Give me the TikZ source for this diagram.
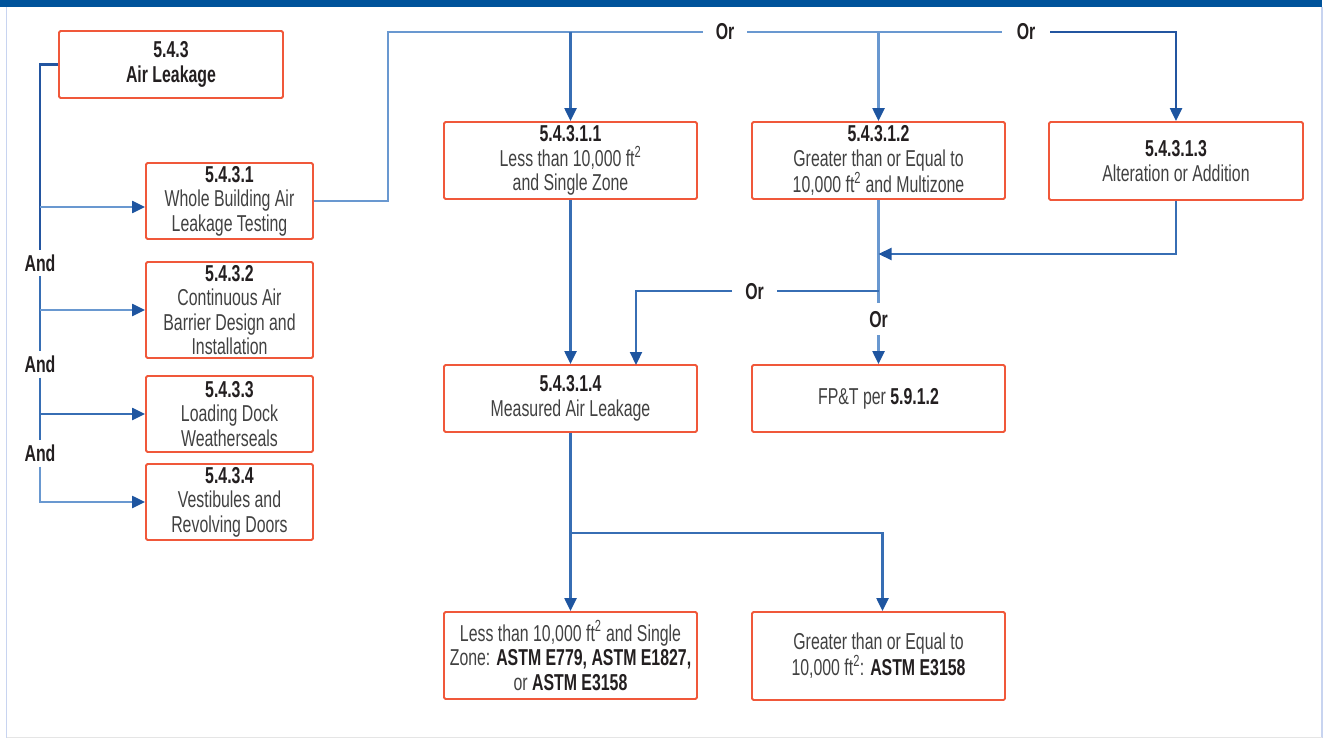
\documentclass[tikz,border=0pt]{standalone}
\usepackage{fontspec}
\setmainfont[FakeStretch=0.69]{Liberation Sans}
\usetikzlibrary{arrows.meta}
\definecolor{barblue}{RGB}{0,83,155}
\definecolor{boxred}{RGB}{240,88,58}
\definecolor{ln}{RGB}{55,110,180}
\definecolor{lnlt}{RGB}{105,152,208}
\definecolor{lndk}{RGB}{35,85,160}
\definecolor{tipblue}{RGB}{30,85,160}
\definecolor{numcol}{RGB}{35,31,32}
\definecolor{txtcol}{RGB}{65,65,65}
\definecolor{edgecol}{RGB}{200,212,240}
\newcommand\secnum[1]{{\bfseries\color{numcol}#1}}
\begin{document}
\begin{tikzpicture}[x=1pt,y=-1pt,
  box/.style={draw=boxred, line width=1.8pt, rounded corners=1.5pt, align=center,
    inner sep=0pt, font=\fontsize{23}{24.5}\selectfont, text=txtcol},
  conn/.style={line width=2.2pt, draw=ln},
  arr/.style={conn, -{Triangle[length=13pt,width=12pt,color=tipblue]}},
  lab/.style={font=\fontsize{23}{24.5}\selectfont\bfseries, text=numcol,
    inner xsep=13pt, inner ysep=5pt, text height=16pt, text depth=0pt},
]
\useasboundingbox (0,0) rectangle (1324,738);
% frame
\fill[barblue] (0,0) rectangle (1322,7.5);
\draw[edgecol, line width=1.5pt] (6.5,7.5) -- (6.5,738);
\draw[edgecol, line width=1.5pt] (1322,7.5) -- (1322,738);
\draw[black!10, line width=1pt] (7,737) -- (1322,737);

% boxes
\node[box, minimum width=224pt, minimum height=67pt] (n543) at (171,64.5)
  {\secnum{5.4.3}\\\secnum{Air Leakage}};
\node[box, minimum width=167pt, minimum height=76pt] (n5431) at (229.5,201)
  {\secnum{5.4.3.1}\\Whole Building Air\\Leakage Testing};
\node[box, minimum width=167pt, minimum height=96pt] (n5432) at (229.5,310)
  {\secnum{5.4.3.2}\\Continuous Air\\Barrier Design and\\Installation};
\node[box, minimum width=167pt, minimum height=76pt] (n5433) at (229.5,414)
  {\secnum{5.4.3.3}\\Loading Dock\\Weatherseals};
\node[box, minimum width=167pt, minimum height=76pt] (n5434) at (229.5,502)
  {\secnum{5.4.3.4}\\Vestibules and\\Revolving Doors};
\node[box, minimum width=253pt, minimum height=77pt] (n54311) at (570.5,160.5)
  {\secnum{5.4.3.1.1}\\Less than 10,000 ft\textsuperscript{2}\\and Single Zone};
\node[box, minimum width=253pt, minimum height=77pt] (n54312) at (878.5,160.5)
  {\secnum{5.4.3.1.2}\\Greater than or Equal to\\10,000 ft\textsuperscript{2} and Multizone};
\node[box, minimum width=254pt, minimum height=78pt] (n54313) at (1176,161)
  {\secnum{5.4.3.1.3}\\Alteration or Addition};
\node[box, minimum width=253pt, minimum height=67pt] (n54314) at (570.5,398.5)
  {\secnum{5.4.3.1.4}\\Measured Air Leakage};
\node[box, minimum width=253pt, minimum height=67pt] (fpt) at (878.5,398.5)
  {FP\&T per \secnum{5.9.1.2}};
\node[box, minimum width=253pt, minimum height=87pt] (b1) at (570.5,655.5)
  {Less than 10,000 ft\textsuperscript{2} and Single\\Zone: \secnum{ASTM E779, ASTM E1827,}\\or \secnum{ASTM E3158}};
\node[box, minimum width=253pt, minimum height=88pt] (b2) at (878.5,656)
  {Greater than or Equal to\\10,000 ft\textsuperscript{2}: \secnum{ASTM E3158}};

% labels
\node[lab] (andA) at (40,263) {And};
\node[lab] (andB) at (40,364.5) {And};
\node[lab] (andC) at (40,453.5) {And};
\node[lab] (or1) at (725,32) {Or};
\node[lab, inner xsep=15pt] (or2) at (1026,32) {Or};
\node[lab] (orM) at (754.5,291) {Or};
\node[lab, inner ysep=8pt] (orV) at (878.5,319) {Or};

% helper coordinates
\coordinate (tc) at (388,32);
\coordinate (j1) at (878.5,254);
\coordinate (j2) at (878.5,291);
\coordinate (m4) at (636,365);
\coordinate (sp) at (570.5,533);

% left column
\draw[conn, draw=lndk] (n543.west) -| (andA.north);
\draw[conn] (andA.south) -- (andB.north);
\draw[conn] (andB.south) -- (andC.north);
\draw[arr, draw=lnlt] ([yshift=-6pt]n5431.west -| andA.south) -- ([yshift=-6pt]n5431.west);
\draw[arr, draw=lnlt] (n5432.west -| andA.south) -- (n5432.west);
\draw[arr] (n5433.west -| andA.south) -- (n5433.west);
\draw[arr, draw=lnlt] (andC.south) |- (n5434.west);

% top routing
\draw[conn, draw=lnlt] (n5431.east) -| (tc) -- (or1.west);
\draw[arr] (n54311.north |- or1.west) -- (n54311.north);
\draw[conn, draw=lnlt] (or1.east) -- (or2.west);
\draw[arr, draw=lnlt] (n54312.north |- or1.east) -- (n54312.north);
\draw[arr, draw=lndk] (or2.east) -| (n54313.north);

% middle
\draw[conn, draw=lnlt] (n54312.south) -- (orV.north);
\draw[arr, draw=lnlt] (orV.south) -- (fpt.north);
\draw[arr] (n54313.south) |- (j1);
\draw[conn] (j2) -- (orM.east);
\draw[arr] (orM.west) -| (m4);
\draw[arr] (n54311.south) -- (n54314.north);

% bottom
\draw[arr] (n54314.south) -- (b1.north);
\draw[arr] (sp) -| ([xshift=4pt]b2.north);
\end{tikzpicture}
\end{document}
